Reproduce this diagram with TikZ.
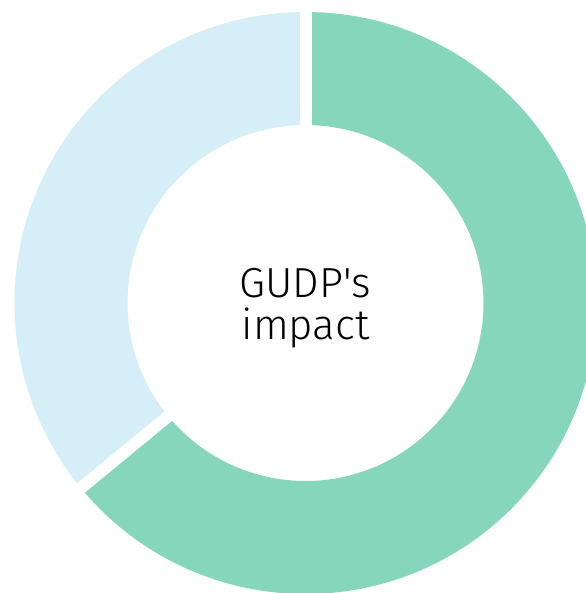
\documentclass[tikz,border=0pt]{standalone}
\usepackage{fontspec}
\setmainfont{Fira Sans Light}
\definecolor{gudpgreen}{HTML}{85D6BA}
\definecolor{gudpblue}{HTML}{D6EEF7}
\tikzset{
  gapline/.style={white, line width=12pt},
  centerlabel/.style={align=center, font=\fontsize{42}{42}\selectfont, text=black, inner sep=0pt}
}
\begin{document}
\begin{tikzpicture}[x=1pt,y=1pt]
\useasboundingbox (0,0) rectangle (585,593);
\fill[white] (0,0) rectangle (585,593);
\coordinate (c) at (305.5,290);
\fill[gudpgreen] ([shift={(90:291)}]c) arc[start angle=90, end angle=-140.5, radius=291]
  -- ([shift={(-140.5:178)}]c) arc[start angle=-140.5, end angle=90, radius=178] -- cycle;
\fill[gudpblue] ([shift={(90:291)}]c) arc[start angle=90, end angle=219.5, radius=291]
  -- ([shift={(219.5:178)}]c) arc[start angle=219.5, end angle=90, radius=178] -- cycle;
\coordinate (g1a) at ([shift={(90:170)}]c);
\coordinate (g1b) at ([shift={(90:300)}]c);
\coordinate (g2a) at ([shift={(219.5:170)}]c);
\coordinate (g2b) at ([shift={(219.5:300)}]c);
\draw[gapline] (g1a) -- (g1b);
\draw[gapline] (g2a) -- (g2b);
\node[centerlabel] (label) at (305.5,285) {GUDP\textquotesingle s\\impact};
\end{tikzpicture}
\end{document}
